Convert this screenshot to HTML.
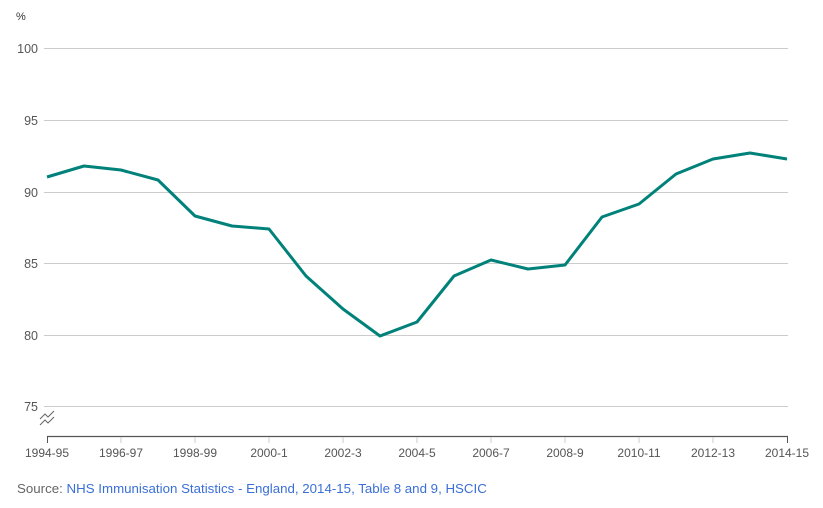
<!DOCTYPE html>
<html><head><meta charset="utf-8"><style>
body{margin:0;background:#fff;}
svg{display:block;font-family:"Liberation Sans",sans-serif;}
</style></head><body>
<svg width="823" height="508" viewBox="0 0 823 508">
<text x="16" y="20" font-size="11" fill="#333">%</text>
<g stroke="#ccc" stroke-width="1">
<line x1="44" y1="48.5" x2="788" y2="48.5"/>
<line x1="44" y1="120.5" x2="788" y2="120.5"/>
<line x1="44" y1="192.5" x2="788" y2="192.5"/>
<line x1="44" y1="263.5" x2="788" y2="263.5"/>
<line x1="44" y1="335.5" x2="788" y2="335.5"/>
<line x1="44" y1="406.5" x2="788" y2="406.5"/>
</g>
<g font-size="12.5" fill="#555" text-anchor="end">
<text x="38" y="53">100</text>
<text x="38" y="125">95</text>
<text x="38" y="197">90</text>
<text x="38" y="268">85</text>
<text x="38" y="340">80</text>
<text x="38" y="411">75</text>
</g>
<g stroke="#666" fill="none" stroke-width="1">
<path d="M40 419 l5 -5 l3 3 l6 -6"/>
<path d="M40 425 l5 -5 l3 3 l6 -6"/>
</g>
<line x1="47" y1="436.5" x2="788" y2="436.5" stroke="#555" stroke-width="1.3"/>
<g stroke="#ccc">
<line x1="121" y1="437" x2="121" y2="443"/><line x1="195" y1="437" x2="195" y2="443"/>
<line x1="269" y1="437" x2="269" y2="443"/><line x1="343" y1="437" x2="343" y2="443"/>
<line x1="417" y1="437" x2="417" y2="443"/><line x1="491" y1="437" x2="491" y2="443"/>
<line x1="565" y1="437" x2="565" y2="443"/><line x1="639" y1="437" x2="639" y2="443"/>
<line x1="713" y1="437" x2="713" y2="443"/>
</g>
<line x1="47.5" y1="436" x2="47.5" y2="443" stroke="#555"/>
<line x1="787.5" y1="436" x2="787.5" y2="443" stroke="#555"/>
<g font-size="12" fill="#555" text-anchor="middle">
<text x="47" y="457">1994-95</text><text x="121" y="457">1996-97</text>
<text x="195" y="457">1998-99</text><text x="269" y="457">2000-1</text>
<text x="343" y="457">2002-3</text><text x="417" y="457">2004-5</text>
<text x="491" y="457">2006-7</text><text x="565" y="457">2008-9</text>
<text x="639" y="457">2010-11</text><text x="713" y="457">2012-13</text>
<text x="787" y="457">2014-15</text>
</g>
<polyline fill="none" stroke="#00827a" stroke-width="3" stroke-linejoin="round"
points="47,177 84,166 121,170 158,180 195,216 232,226 269,229 306,276 343,309 380,336 417,322 454,276 491,260 528,269 565,265 602,217 639,204 676,174 713,159 750,153 787,159"/>
<text x="17" y="493" font-size="13.3" fill="#666">Source: <tspan fill="#3a6fd8">NHS Immunisation Statistics - England, 2014-15, Table 8 and 9, HSCIC</tspan></text>
</svg>
</body></html>
